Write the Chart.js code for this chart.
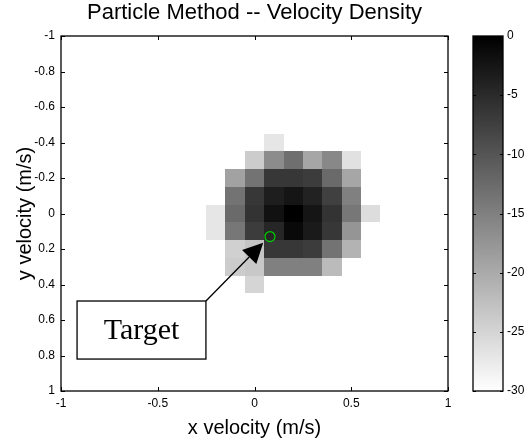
<!DOCTYPE html>
<html>
<head>
<meta charset="utf-8">
<script src="https://cdn.jsdelivr.net/npm/chart.js@4.4.1/dist/chart.umd.min.js"></script>
<style>
  html, body { margin: 0; padding: 0; background: #fff; }
</style>
</head>
<body>
<canvas id="lienzo" width="531" height="440"></canvas>
<script>
"use strict";

// Centros de las celdas (m/s)
const xCentros = [-0.2, -0.1, 0, 0.1, 0.2, 0.3, 0.4, 0.5, 0.6];
const yCentros = [-0.4, -0.3, -0.2, -0.1, 0, 0.1, 0.2, 0.3, 0.4];
const tamCelda = 0.1;

// Densidad (escala 0 .. -30), una fila por cada yCentro, null = vacío
const densidad = [
  [null, null, null, -27, null, null, null, null, null],
  [null, null, -24, -16.5, -13, -19.5, -16, -26.5, null],
  [null, -19, -13.5, -6.5, -6.5, -7, -12.5, -19.5, null],
  [null, -13.5, -6.5, -3.5, -2.5, -4, -7.5, -15, null],
  [-27, -12.5, -6, -2, 0, -2.5, -6, -14, -26],
  [-27, -14, -7, -4.5, -1, -3, -6.5, -17.5, null],
  [null, -24.5, -23, -6.5, -6.5, -7, -13.5, -21, null],
  [null, -24, -23.5, -15, -15, -15, -22, null, null],
  [null, null, -25, null, null, null, null, null, null],
];

const xTicks = [-1, -0.5, 0, 0.5, 1];
const yTicks = [-1, -0.8, -0.6, -0.4, -0.2, 0, 0.2, 0.4, 0.6, 0.8, 1];
const colorTicks = [0, -5, -10, -15, -20, -25, -30];
const colorMin = -30;
const colorMax = 0;

// Anotación: objetivo, flecha y recuadro (unidades de datos)
const objetivo = { x: 0.08, y: 0.13 };
const puntaFlecha = { x: 0.045, y: 0.165 };
const recuadro = { x0: -0.917, x1: -0.251, y0: 0.493, y1: 0.82, texto: "Target" };

const puntos = [];
yCentros.forEach((yc, i) => {
  xCentros.forEach((xc, j) => {
    const v = densidad[i][j];
    if (v !== null) puntos.push({ x: xc, y: yc, v: v });
  });
});

const fuente = "'Liberation Sans', Arial, Helvetica, sans-serif";

const gris = (v) => {
  const t = Math.min(1, Math.max(0, (colorMax - v) / (colorMax - colorMin)));
  const g = Math.round(255 * t);
  return `rgb(${g},${g},${g})`;
};

const mapaCalor = {
  id: "mapaCalor",
  beforeDatasetsDraw(chart) {
    const { ctx, scales: { x, y } } = chart;
    ctx.save();
    chart.data.datasets[0].data.forEach((p) => {
      const x0 = Math.round(x.getPixelForValue(p.x - tamCelda / 2));
      const x1 = Math.round(x.getPixelForValue(p.x + tamCelda / 2));
      const y0 = Math.round(y.getPixelForValue(p.y - tamCelda / 2));
      const y1 = Math.round(y.getPixelForValue(p.y + tamCelda / 2));
      ctx.fillStyle = gris(p.v);
      ctx.fillRect(x0, Math.min(y0, y1), x1 - x0, Math.abs(y1 - y0));
    });
    ctx.restore();
  },
  afterDraw(chart) {
    const { ctx, chartArea: a, scales: { x, y, cb } } = chart;
    ctx.save();

    // Marco y marcas hacia dentro
    ctx.strokeStyle = "#000";
    ctx.lineWidth = 1.3;
    ctx.strokeRect(a.left, a.top, a.right - a.left, a.bottom - a.top);
    ctx.lineWidth = 1;
    ctx.beginPath();
    x.ticks.forEach((t) => {
      const px = Math.round(x.getPixelForValue(t.value)) + 0.5;
      ctx.moveTo(px, a.bottom); ctx.lineTo(px, a.bottom - 4);
      ctx.moveTo(px, a.top); ctx.lineTo(px, a.top + 4);
    });
    y.ticks.forEach((t) => {
      const py = Math.round(y.getPixelForValue(t.value)) + 0.5;
      ctx.moveTo(a.left, py); ctx.lineTo(a.left + 4, py);
      ctx.moveTo(a.right, py); ctx.lineTo(a.right - 4, py);
    });
    ctx.stroke();

    // Barra de color
    const cbIzq = a.right + 25;
    const cbDer = cbIzq + 30;
    const cbArr = cb.getPixelForValue(colorMax);
    const cbAba = cb.getPixelForValue(colorMin);
    const grad = ctx.createLinearGradient(0, cbArr, 0, cbAba);
    grad.addColorStop(0, gris(colorMax));
    grad.addColorStop(1, gris(colorMin));
    ctx.fillStyle = grad;
    ctx.fillRect(cbIzq, cbArr, cbDer - cbIzq, cbAba - cbArr);
    ctx.lineWidth = 1.3;
    ctx.strokeRect(cbIzq, cbArr, cbDer - cbIzq, cbAba - cbArr);
    ctx.lineWidth = 1;
    ctx.beginPath();
    cb.ticks.forEach((t) => {
      const py = Math.round(cb.getPixelForValue(t.value)) + 0.5;
      ctx.moveTo(cbIzq, py); ctx.lineTo(cbIzq + 3, py);
      ctx.moveTo(cbDer, py); ctx.lineTo(cbDer - 3, py);
    });
    ctx.stroke();

    // Círculo verde del objetivo
    ctx.strokeStyle = "#00d000";
    ctx.lineWidth = 1.2;
    ctx.beginPath();
    ctx.arc(x.getPixelForValue(objetivo.x), y.getPixelForValue(objetivo.y), 5, 0, Math.PI * 2);
    ctx.stroke();

    // Recuadro con texto
    const bx0 = x.getPixelForValue(recuadro.x0);
    const bx1 = x.getPixelForValue(recuadro.x1);
    const by0 = y.getPixelForValue(recuadro.y0);
    const by1 = y.getPixelForValue(recuadro.y1);
    ctx.fillStyle = "#fff";
    ctx.fillRect(bx0, by0, bx1 - bx0, by1 - by0);
    ctx.strokeStyle = "#000";
    ctx.lineWidth = 1.3;
    ctx.strokeRect(bx0, by0, bx1 - bx0, by1 - by0);
    ctx.fillStyle = "#000";
    ctx.font = "30px 'Liberation Serif', 'Times New Roman', serif";
    ctx.textAlign = "center";
    ctx.textBaseline = "middle";
    ctx.fillText(recuadro.texto, (bx0 + bx1) / 2, (by0 + by1) / 2 + 1);

    // Flecha desde la esquina del recuadro
    const tx = x.getPixelForValue(puntaFlecha.x);
    const ty = y.getPixelForValue(puntaFlecha.y);
    const ang = Math.atan2(ty - by0, tx - bx1);
    const largo = 20;
    const medio = 10;
    const baseX = tx - largo * Math.cos(ang);
    const baseY = ty - largo * Math.sin(ang);
    ctx.beginPath();
    ctx.moveTo(bx1, by0);
    ctx.lineTo(baseX, baseY);
    ctx.stroke();
    ctx.beginPath();
    ctx.moveTo(tx, ty);
    ctx.lineTo(baseX + medio * Math.sin(ang), baseY - medio * Math.cos(ang));
    ctx.lineTo(baseX - medio * Math.sin(ang), baseY + medio * Math.cos(ang));
    ctx.closePath();
    ctx.fill();

    ctx.restore();
  },
};

const lienzo = document.getElementById("lienzo").getContext("2d");

const grafico = new Chart(lienzo, {
  type: "scatter",
  data: {
    datasets: [
      {
        label: "densidad",
        data: puntos,
        pointRadius: 0,
        pointHoverRadius: 0,
      },
    ],
  },
  options: {
    responsive: false,
    animation: false,
    events: [],
    layout: { padding: 0 },
    plugins: {
      legend: { display: false },
      tooltip: { enabled: false },
      title: {
        display: true,
        text: "Particle Method -- Velocity Density",
        fullSize: false,
        color: "#000",
        font: { family: fuente, size: 22, weight: "normal" },
        padding: { top: 0, bottom: 9.6 },
      },
    },
    scales: {
      x: {
        type: "linear",
        position: "bottom",
        min: -1,
        max: 1,
        afterBuildTicks: (s) => { s.ticks = xTicks.map((v) => ({ value: v })); },
        afterFit: (s) => { s.height = 49; },
        grid: { display: false, drawTicks: false },
        border: { display: false },
        ticks: {
          color: "#000",
          padding: 5,
          maxRotation: 0,
          font: { family: fuente, size: 12 },
          callback: (v) => String(v),
        },
        title: {
          display: true,
          text: "x velocity (m/s)",
          color: "#000",
          font: { family: fuente, size: 20 },
          padding: { top: 0, bottom: 0 },
        },
      },
      y: {
        type: "linear",
        position: "left",
        reverse: true,
        min: -1,
        max: 1,
        afterBuildTicks: (s) => { s.ticks = yTicks.map((v) => ({ value: v })); },
        afterFit: (s) => {
          s.width = 61;
          s.paddingTop = 0;
          s.paddingBottom = 0;
        },
        grid: { display: false, drawTicks: false },
        border: { display: false },
        ticks: {
          color: "#000",
          padding: 6,
          font: { family: fuente, size: 12 },
          callback: (v) => String(v),
        },
        title: {
          display: true,
          text: "y velocity (m/s)",
          color: "#000",
          font: { family: fuente, size: 20 },
          padding: { top: 13, bottom: 0 },
        },
      },
      cb: {
        type: "linear",
        position: "right",
        min: colorMin,
        max: colorMax,
        afterBuildTicks: (s) => { s.ticks = colorTicks.map((v) => ({ value: v })); },
        afterFit: (s) => {
          s.width = 83;
          s.paddingTop = 0;
          s.paddingBottom = 0;
        },
        grid: { display: false, drawTicks: false },
        border: { display: false },
        ticks: {
          color: "#000",
          padding: 59,
          font: { family: fuente, size: 12 },
          callback: (v) => String(v),
        },
      },
    },
  },
  plugins: [mapaCalor],
});
</script>
</body>
</html>
